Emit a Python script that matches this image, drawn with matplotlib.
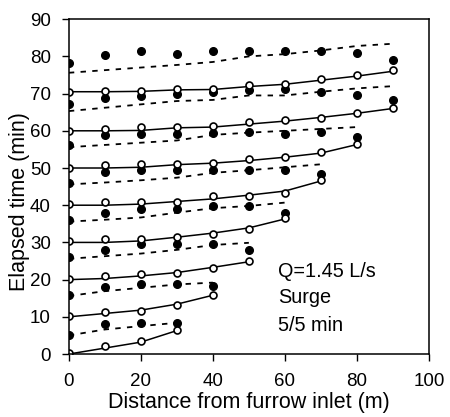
import matplotlib
matplotlib.use("Agg")
import matplotlib.pyplot as plt
import numpy as np

plt.rcParams['font.family'] = ['Liberation Sans', 'DejaVu Sans']

# distance stations along the furrow (m)
x_stations = [0, 10, 20, 30, 40, 50, 60, 70, 80, 90]

# observed advance (open circles), one list per surge (start at 0,10,...,70 min)
adv_obs = [
    [0.2, 2.2, 3.5, 6.5],
    [10.2, 11.4, 11.7, 13.2, 16.0],
    [20.3, 21.0, 21.4, 21.8, 23.2, 25.0],
    [30.4, 30.8, 30.8, 31.5, 32.3, 33.7, 36.5],
    [40.4, 40.9, 40.9, 40.9, 42.5, 42.5, 43.4, 46.7],
    [50.1, 50.7, 51.0, 51.0, 51.4, 52.4, 53.0, 54.3, 56.5],
    [59.9, 60.6, 61.0, 61.0, 61.3, 62.4, 62.8, 63.5, 64.9, 66.2],
    [70.5, 70.7, 70.7, 71.2, 71.2, 72.2, 72.7, 74.0, 74.9, 76.3],
]

# observed recession (filled circles), surges cut off at 5,15,...,75 min
rec_obs = [
    [5.1, 8.0, 8.3, 8.3],
    [16.0, 18.0, 18.9, 18.9, 18.3],
    [26.1, 28.0, 29.5, 29.5, 29.5, 28.0],
    [35.9, 38.0, 38.9, 38.9, 39.8, 39.8, 38.0],
    [46.1, 49.0, 49.5, 49.5, 49.5, 49.4, 49.4, 48.5],
    [56.2, 58.8, 59.1, 59.1, 59.5, 59.7, 59.1, 59.7, 58.2],
    [67.3, 68.9, 69.4, 70.0, 70.5, 71.0, 71.2, 70.5, 69.5, 68.3],
    [78.1, 80.3, 81.5, 80.6, 81.5, 81.5, 81.5, 81.5, 81.0, 79.0],
]

# simulated advance (solid lines)
adv_sim = [
    [0.0, 1.6, 3.2, 6.3],
    [10.0, 10.9, 11.8, 13.4, 15.8],
    [20.0, 20.3, 21.0, 21.9, 23.3, 24.8],
    [30.0, 30.0, 30.4, 31.4, 32.5, 33.9, 36.3],
    [40.0, 40.0, 40.3, 41.0, 41.7, 42.7, 43.8, 46.5],
    [50.0, 50.0, 50.2, 50.9, 51.3, 52.0, 52.9, 54.0, 56.3],
    [60.0, 60.0, 60.1, 60.8, 61.0, 61.8, 62.6, 63.6, 64.7, 66.0],
    [70.5, 70.5, 70.6, 71.0, 71.1, 71.9, 72.5, 73.6, 74.7, 76.0],
]

# simulated recession (dashed lines)
rec_sim = [
    [5.0, 6.6, 7.5, 8.4],
    [15.6, 16.9, 17.8, 18.7, 19.2],
    [25.6, 26.3, 27.0, 28.0, 29.3, 29.9],
    [35.6, 36.1, 36.7, 38.0, 39.2, 39.8, 40.7],
    [45.6, 46.1, 46.7, 47.4, 48.7, 49.4, 50.2, 51.0],
    [55.6, 56.2, 56.8, 57.4, 58.9, 59.5, 60.0, 60.5, 61.0],
    [65.3, 66.2, 67.1, 68.0, 68.3, 69.5, 69.5, 70.5, 71.4, 72.0],
    [75.6, 76.3, 77.0, 77.7, 78.5, 80.0, 80.6, 81.6, 82.8, 83.4],
]

fig = plt.figure(figsize=(4.5, 4.17), dpi=100)
ax = fig.add_axes([0.153, 0.151, 0.8, 0.803])

for vals in rec_sim:
    ax.plot(x_stations[:len(vals)], vals, color="black", lw=1.3,
            linestyle=(0, (3, 3.5)))
for vals in adv_sim:
    ax.plot(x_stations[:len(vals)], vals, color="black", lw=1.1)
for vals in rec_obs:
    ax.plot(x_stations[:len(vals)], vals, "o", color="black", ms=5.5,
            linestyle="none")
for vals in adv_obs:
    ax.plot(x_stations[:len(vals)], vals, "o", mfc="white", mec="black",
            mew=1.2, ms=5, linestyle="none")

ax.set_xlim(0, 100)
ax.set_ylim(0, 90)
ax.set_xticks(range(0, 101, 20))
ax.set_yticks(range(0, 91, 10))
ax.tick_params(direction="out", length=5, width=1, labelsize=13.5,
               top=False, right=False)
ax.tick_params(axis="x", pad=9)
ax.tick_params(axis="y", pad=8)
for sp in ax.spines.values():
    sp.set_linewidth(1.1)
ax.set_xlabel("Distance from furrow inlet (m)", fontsize=15.5)
ax.set_ylabel("Elapsed time (min)", fontsize=15.5)
ax.xaxis.set_label_coords(0.5, -0.113)
ax.yaxis.set_label_coords(-0.108, 0.455)

ax.text(58, 22.3, "Q=1.45 L/s", fontsize=14.3, va="center")
ax.text(58, 15.2, "Surge", fontsize=14.3, va="center")
ax.text(58, 7.8, "5/5 min", fontsize=14.3, va="center")

fig.savefig("out.png", dpi=100)
